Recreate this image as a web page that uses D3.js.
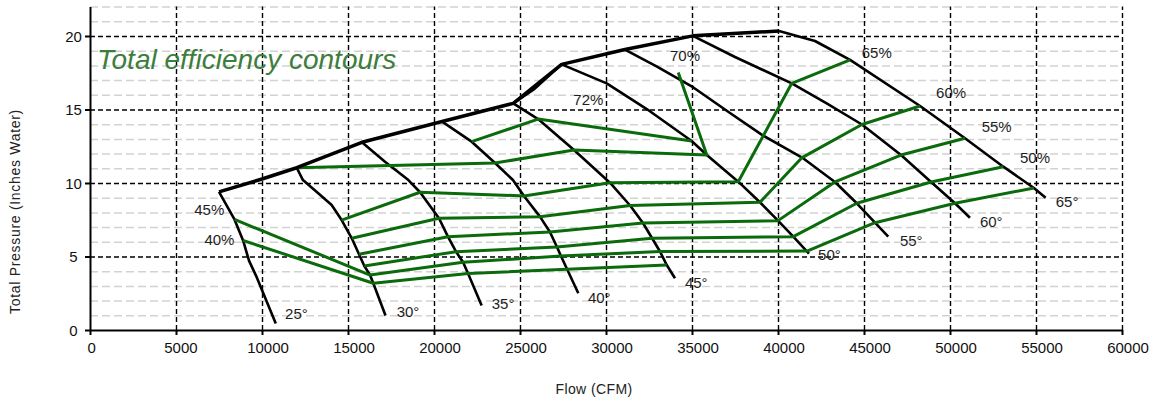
<!DOCTYPE html>
<html>
<head>
<meta charset="utf-8">
<script src="https://cdn.jsdelivr.net/npm/d3@7"></script>
<style>
  html, body { margin: 0; padding: 0; background: #fff; }
  svg { display: block; }
  text { font-family: "Liberation Sans", Arial, Helvetica, sans-serif; }
</style>
</head>
<body>
<svg id="chart" width="1155" height="400"></svg>
<script>
// ---- axis ticks ----
const flowTicks = [0, 5000, 10000, 15000, 20000, 25000, 30000, 35000, 40000, 45000, 50000, 55000, 60000];
const pressureTicks = [0, 5, 10, 15, 20];
const pressureMinorTicks = [1, 2, 3, 4, 6, 7, 8, 9, 11, 12, 13, 14, 16, 17, 18, 19, 21, 22];

// ---- stall boundary [flow CFM, pressure in. water] ----
const stallLine = [[7500, 9.40], [10000, 10.27], [12020, 11.04], [15810, 12.77], [20470, 14.18],
                   [24610, 15.42], [27420, 18.07], [31100, 19.08], [35050, 20.01], [40060, 20.34]];
const stallKnee = [[24610, 15.42], [25800, 16.36], [27420, 18.07]];

// ---- blade angle curves ----
const blade25 = [[7500, 9.40], [8400, 7.52], [8900, 6.09], [9250, 4.70], [9650, 3.70], [10800, 0.45]];
const blade30 = [[12020, 11.04], [12380, 10.20], [13270, 9.30], [14050, 8.50], [14630, 7.48], [15220, 6.24],
                 [15640, 5.15], [15950, 4.35], [16280, 3.74], [16470, 3.18], [17180, 0.99]];
const blade35 = [[15810, 12.77], [17150, 11.45], [18510, 10.20], [19190, 9.37], [20290, 7.60], [20810, 6.35],
                 [21280, 5.33], [21690, 4.61], [21980, 3.84], [22770, 1.67]];
const blade40 = [[20470, 14.18], [22190, 12.81], [23550, 11.36], [24590, 10.20], [25230, 9.12], [26160, 7.71],
                 [26740, 6.67], [27150, 5.65], [27380, 5.03], [28390, 2.50]];
const blade45 = [[24610, 15.42], [26050, 14.35], [28140, 12.24], [30230, 10.02], [31400, 8.47], [32150, 7.28],
                 [32680, 6.24], [33140, 5.34], [33530, 4.42], [34010, 3.52]];
const blade50 = [[27420, 18.07], [30040, 16.78], [32370, 15.03], [34980, 12.86], [35860, 11.90], [37690, 10.09],
                 [38950, 8.69], [40000, 7.44], [40890, 6.35], [41800, 5.20]];
const blade55 = [[31100, 19.08], [32965, 17.91], [35080, 16.50], [37210, 14.76], [39070, 13.27], [41400, 11.73],
                 [43310, 10.07], [44580, 8.62], [45640, 7.30], [46410, 6.35]];
const blade60 = [[35050, 20.01], [37500, 18.57], [40800, 16.78], [42830, 15.42], [44880, 13.98], [47150, 11.90],
                 [48900, 10.07], [50290, 8.62], [51160, 7.64]];
const blade65 = [[40060, 20.34], [42150, 19.66], [44190, 18.37], [48260, 15.24], [50870, 13.04], [53100, 11.11],
                 [54880, 9.66], [55560, 9.00]];
const bladeCurves = [blade25, blade30, blade35, blade40, blade45, blade50, blade55, blade60, blade65];
const bladeNames = ["25°", "30°", "35°", "40°", "45°", "50°", "55°", "60°", "65°"];
const bladeLabelAt = [[11340, 0.78], [17830, 0.88], [23360, 1.43], [28950, 1.84], [34590, 2.89],
                      [42330, 4.73], [47090, 5.71], [51740, 7.01], [56150, 8.40]];

// ---- total efficiency contours ----
const eff72 = [[22190, 12.81], [26050, 14.35], [34980, 12.86]];
const eff70 = [[12020, 11.04], [23550, 11.36], [28140, 12.24], [35860, 11.90], [34200, 17.52]];
const eff65 = [[14630, 7.48], [19190, 9.37], [25230, 9.12], [30230, 10.02], [37690, 10.09], [40800, 16.78], [44190, 18.37]];
const eff60 = [[15220, 6.24], [20290, 7.60], [26160, 7.71], [31400, 8.47], [38950, 8.69], [41400, 11.73], [44880, 13.98], [48260, 15.24]];
const eff55 = [[15640, 5.15], [20810, 6.35], [26740, 6.67], [32150, 7.28], [40000, 7.44], [43310, 10.07], [47150, 11.90], [50870, 13.04]];
const eff50 = [[15950, 4.35], [21280, 5.33], [27150, 5.65], [32680, 6.24], [40890, 6.35], [44580, 8.62], [48900, 10.07], [53100, 11.11]];
const eff45 = [[8400, 7.52], [16280, 3.74], [21690, 4.61], [27380, 5.03], [33140, 5.34], [41690, 5.37], [45640, 7.30], [50290, 8.62], [54880, 9.66]];
const eff40 = [[8900, 6.09], [16470, 3.18], [21980, 3.84], [33530, 4.42]];
const effContours = [eff72, eff70, eff65, eff60, eff55, eff50, eff45, eff40];
const effNames = ["72%", "70%", "65%", "60%", "55%", "50%", "45%", "40%"];
const effLabelAt = [[28100, 15.34], [33720, 18.33], [44870, 18.50], [49190, 15.78],
                    [51840, 13.47], [54070, 11.36], [6060, 7.79], [6650, 5.78]];

// ---- layout ----
const plotLeft = 90, plotRight = 1122, plotBottom = 330, plotTop = 6.6;
const x = d3.scaleLinear().domain([0, 60000]).range([plotLeft, plotRight]);
const y = d3.scaleLinear().domain([0, 22]).range([plotBottom, plotTop]);
const svg = d3.select("#chart");
const line = d3.line().x(d => x(d[0])).y(d => y(d[1]));

// minor horizontal grid
svg.append("g").attr("transform", `translate(${plotLeft},0)`)
  .call(d3.axisLeft(y).tickValues(pressureMinorTicks).tickSize(-(plotRight - plotLeft)).tickFormat(""))
  .call(g => g.select(".domain").remove())
  .selectAll(".tick line")
  .attr("stroke", "#d2d2d2").attr("stroke-width", 1.5).attr("stroke-dasharray", "8,4");

// major horizontal grid
svg.append("g").attr("transform", `translate(${plotLeft},0)`)
  .call(d3.axisLeft(y).tickValues(pressureTicks.filter(v => v > 0)).tickSize(-(plotRight - plotLeft)).tickFormat(""))
  .call(g => g.select(".domain").remove())
  .selectAll(".tick line")
  .attr("stroke", "#000").attr("stroke-width", 1.4).attr("stroke-dasharray", "5,3");

// major vertical grid
svg.append("g").attr("transform", `translate(0,${plotBottom})`)
  .call(d3.axisBottom(x).tickValues(flowTicks.filter(v => v > 0)).tickSize(-(plotBottom - plotTop)).tickFormat(""))
  .call(g => g.select(".domain").remove())
  .selectAll(".tick line")
  .attr("stroke", "#000").attr("stroke-width", 1.4).attr("stroke-dasharray", "5,3");

// blade angle curves
svg.append("g")
  .selectAll("path").data(bladeCurves).join("path")
  .attr("d", line).attr("fill", "none")
  .attr("stroke", "#000").attr("stroke-width", 2.6)
  .attr("stroke-linejoin", "round");

// efficiency contours
svg.append("g")
  .selectAll("path").data(effContours).join("path")
  .attr("d", line).attr("fill", "none")
  .attr("stroke", "#0b6a0b").attr("stroke-width", 3)
  .attr("stroke-linejoin", "round");

// stall boundary
svg.append("path").attr("d", line(stallLine)).attr("fill", "none")
  .attr("stroke", "#000").attr("stroke-width", 3.5).attr("stroke-linejoin", "round");
svg.append("path").attr("d", line(stallKnee)).attr("fill", "none")
  .attr("stroke", "#000").attr("stroke-width", 2.6).attr("stroke-linejoin", "round");

// blade angle labels
svg.append("g")
  .selectAll("text").data(bladeNames).join("text")
  .attr("x", (d, i) => x(bladeLabelAt[i][0]))
  .attr("y", (d, i) => y(bladeLabelAt[i][1]))
  .attr("font-size", 15).attr("fill", "#1e1e1e")
  .text(d => d);

// efficiency labels
svg.append("g")
  .selectAll("text").data(effNames).join("text")
  .attr("x", (d, i) => x(effLabelAt[i][0]))
  .attr("y", (d, i) => y(effLabelAt[i][1]))
  .attr("font-size", 15).attr("fill", "#1e1e1e")
  .text(d => d);

// chart title
svg.append("text")
  .attr("x", 97).attr("y", 69)
  .attr("font-size", 28).attr("font-style", "italic")
  .attr("fill", "#3d7d3d")
  .text("Total efficiency contours");

// axes
const xAxis = svg.append("g").attr("transform", `translate(0,${plotBottom})`)
  .call(d3.axisBottom(x).tickValues(flowTicks).tickSize(5).tickSizeOuter(0).tickFormat(d3.format("d")));
xAxis.select(".domain").attr("stroke", "#000").attr("stroke-width", 2);
xAxis.selectAll(".tick line").attr("stroke", "#000").attr("stroke-width", 2);
xAxis.selectAll(".tick text")
  .attr("y", 23).attr("dy", 0)
  .attr("dx", d => String(d).length * 1.1)
  .attr("font-size", 15).attr("fill", "#111")
  .attr("font-family", "'Liberation Sans', Arial, sans-serif");

const yAxis = svg.append("g").attr("transform", `translate(${plotLeft},0)`)
  .call(d3.axisLeft(y).tickValues(pressureTicks).tickSize(5).tickSizeOuter(0));
yAxis.select(".domain").attr("stroke", "#000").attr("stroke-width", 2);
yAxis.selectAll(".tick line").attr("stroke", "#000").attr("stroke-width", 2);
yAxis.selectAll(".tick text")
  .attr("x", -16.5).attr("dy", "0.36em")
  .attr("text-anchor", "middle")
  .attr("font-size", 15).attr("fill", "#111")
  .attr("font-family", "'Liberation Sans', Arial, sans-serif");

// axis titles
svg.append("text")
  .attr("x", 594).attr("y", 393.5)
  .attr("text-anchor", "middle")
  .attr("font-size", 14).attr("letter-spacing", 0.4).attr("fill", "#222")
  .text("Flow (CFM)");

svg.append("text")
  .attr("transform", "translate(20,211.5) rotate(-90)")
  .attr("text-anchor", "middle")
  .attr("font-size", 14).attr("letter-spacing", 0.7).attr("fill", "#222")
  .text("Total Pressure (Inches Water)");
</script>
</body>
</html>
